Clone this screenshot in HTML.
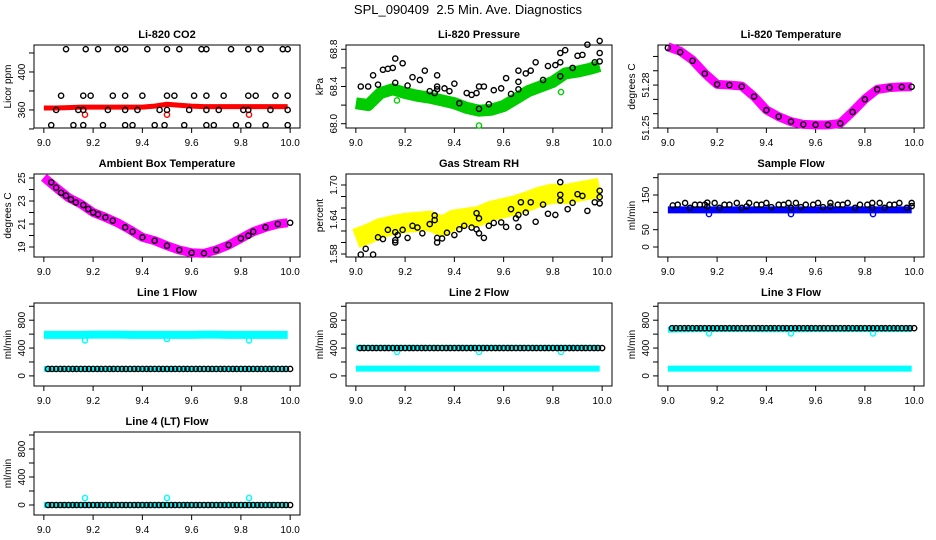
<!DOCTYPE html>
<html><head><meta charset="utf-8">
<style>
html,body{margin:0;padding:0;background:#fff;}
svg{display:block;font-family:"Liberation Sans",Arial,sans-serif;}
</style></head>
<body>
<svg id="chart" width="936" height="540" viewBox="0 0 936 540">
<rect width="936" height="540" fill="#fff"/>
<text x="468" y="14" text-anchor="middle" font-size="13">SPL_090409&#160; 2.5 Min. Ave. Diagnostics</text>
</svg>
<script>
// ---------- data ----------
const bandTimes = [9.0,9.05,9.1,9.15,9.2,9.25,9.3,9.35,9.4,9.45,9.5,9.55,9.6,9.65,9.7,9.75,9.8,9.85,9.9,9.95,9.99];
const sampleTimes = [9.017,9.033,9.05,9.067,9.083,9.1,9.117,9.133,9.15,9.167,9.183,9.2,9.217,9.233,9.25,9.267,9.283,9.3,9.317,9.333,9.35,9.367,9.383,9.4,9.417,9.433,9.45,9.467,9.483,9.5,9.517,9.533,9.55,9.567,9.583,9.6,9.617,9.633,9.65,9.667,9.683,9.7,9.717,9.733,9.75,9.767,9.783,9.8,9.817,9.833,9.85,9.867,9.883,9.9,9.917,9.933,9.95,9.967,9.983,10.0];
const outlierTimes = [9.167,9.5,9.833];
const xTicks = [9.0,9.2,9.4,9.6,9.8,10.0];
const xTickLabels = ["9.0","9.2","9.4","9.6","9.8","10.0"];

// CO2
const co2Band = [362,362,362.5,363,363,363,363,363,363,364,366,365,364,363.5,363.5,363.5,363.5,363.5,363.5,363.5,363.5];
const co2Outliers = [355,355,355];
const co2PtTimes = [9.09,9.17,9.22,9.30,9.33,9.42,9.50,9.55,9.64,9.66,9.76,9.83,9.88,9.97,9.99,
 9.07,9.16,9.19,9.28,9.33,9.40,9.50,9.53,9.61,9.66,9.73,9.83,9.86,9.94,9.99,
 9.05,9.14,9.16,9.26,9.33,9.38,9.47,9.50,9.59,9.66,9.71,9.81,9.83,9.92,9.99,
 9.03,9.12,9.16,9.24,9.33,9.36,9.45,9.49,9.57,9.66,9.69,9.78,9.83,9.90,9.99];
const co2PtValues = [424,424,424,424,424,424,424,424,424,424,424,424,424,424,424,
 375,375,375,375,375,375,375,375,375,375,375,375,375,375,375,
 360,360,360,360,360,360,360,360,360,360,360,360,360,360,360,
 344,344,344,344,344,344,344,344,344,344,344,344,344,344,344];
// Pressure
const presBand = [68.22,68.20,68.33,68.37,68.33,68.30,68.28,68.25,68.22,68.17,68.14,68.15,68.19,68.27,68.35,68.40,68.45,68.54,68.56,68.59,68.62];
const presOutliers = [68.25,67.98,68.34];
const presPtTimes = [9.02,9.05,9.07,9.09,9.11,9.13,9.15,9.16,9.16,9.19,9.21,9.23,9.26,9.28,9.30,9.32,9.33,9.33,9.33,9.36,9.38,9.40,9.42,9.45,9.47,9.49,9.50,9.50,9.52,9.54,9.56,9.59,9.61,9.63,9.66,9.66,9.66,9.69,9.71,9.73,9.76,9.78,9.81,9.83,9.83,9.83,9.85,9.88,9.90,9.92,9.94,9.97,9.99,9.99,9.99];
const presPtValues = [68.40,68.40,68.52,68.42,68.58,68.59,68.60,68.70,68.44,68.65,68.41,68.50,68.47,68.57,68.35,68.33,68.52,68.40,68.37,68.38,68.35,68.43,68.22,68.33,68.31,68.33,68.40,68.16,68.40,68.21,68.36,68.38,68.49,68.32,68.57,68.45,68.37,68.54,68.57,68.66,68.47,68.62,68.63,68.66,68.76,68.51,68.79,68.60,68.73,68.74,68.85,68.66,68.89,68.76,68.67];
// Li-820 temperature
const tempBand = [51.3067,51.3037,51.2975,51.2882,51.2805,51.2800,51.2793,51.2720,51.2626,51.2579,51.2544,51.2525,51.2522,51.2522,51.2532,51.2614,51.2702,51.2770,51.2782,51.2787,51.2788];
const tempPtValues = [51.3060,51.3030,51.2970,51.2880,51.2805,51.2800,51.2790,51.2720,51.2625,51.2580,51.2545,51.2525,51.2522,51.2522,51.2532,51.2612,51.2700,51.2770,51.2782,51.2787,51.2788];
// Ambient
const ambBand = [25.06,24.16,23.3,22.75,22.01,21.58,21.1,20.5,19.84,19.55,19.11,18.74,18.5,18.45,18.74,19.17,19.75,20.33,20.71,21.0,21.11];
const ambPtTimes = [9.03,9.05,9.07,9.09,9.11,9.13,9.16,9.18,9.2,9.22,9.25,9.28,9.33,9.36,9.4,9.45,9.5,9.55,9.6,9.65,9.7,9.75,9.8,9.83,9.85,9.9,9.95,10.0];
const ambPtValues = [24.63,24.16,23.72,23.46,23.14,22.88,22.65,22.30,22.01,21.84,21.58,21.29,20.71,20.33,19.84,19.55,19.11,18.74,18.50,18.45,18.74,19.17,19.75,19.98,20.33,20.71,21.0,21.11];
// RH
const rhBand = [1.607,1.615,1.625,1.630,1.634,1.636,1.638,1.628,1.640,1.643,1.646,1.655,1.660,1.665,1.672,1.680,1.685,1.684,1.688,1.692,1.695];
const rhPtTimes = [9.02,9.04,9.07,9.09,9.11,9.13,9.16,9.16,9.16,9.17,9.19,9.21,9.23,9.25,9.27,9.30,9.32,9.32,9.33,9.33,9.35,9.37,9.40,9.42,9.44,9.47,9.49,9.49,9.50,9.50,9.52,9.54,9.56,9.59,9.61,9.63,9.65,9.66,9.66,9.67,9.69,9.71,9.73,9.76,9.78,9.81,9.83,9.83,9.83,9.86,9.88,9.90,9.92,9.94,9.97,9.99,9.99,9.99];
const rhPtValues = [1.579,1.589,1.579,1.609,1.606,1.622,1.618,1.604,1.600,1.613,1.622,1.608,1.629,1.626,1.616,1.632,1.639,1.647,1.608,1.600,1.607,1.617,1.613,1.623,1.629,1.626,1.623,1.651,1.642,1.616,1.608,1.629,1.634,1.635,1.627,1.658,1.642,1.648,1.627,1.670,1.652,1.670,1.636,1.666,1.650,1.648,1.705,1.683,1.673,1.658,1.669,1.684,1.681,1.655,1.670,1.690,1.668,1.679];
// Sample flow
const sfBand = [107,107,107,107,107,107,107,107,107,107,107,107,107,107,107,107,107,107,107,107,107];
const sfOutliers = [95,95,95];
const sfPtTimes = [9.02,9.04,9.07,9.09,9.11,9.13,9.15,9.16,9.16,9.19,9.21,9.23,9.25,9.28,9.30,9.32,9.33,9.36,9.38,9.40,9.42,9.45,9.47,9.49,9.5,9.52,9.54,9.56,9.59,9.61,9.63,9.66,9.66,9.69,9.71,9.73,9.76,9.78,9.81,9.83,9.83,9.86,9.88,9.9,9.92,9.94,9.97,9.99,9.99];
const sfPtValues = [120,122,127,113,122,122,122,128,117,127,113,122,122,127,113,117,127,122,122,127,115,122,122,127,113,127,115,122,122,127,115,127,117,122,122,127,113,122,122,127,113,127,113,122,122,127,113,127,118];
// Line flows
const line1Upper = [590,590,590,590,592,592,592,590,590,590,590,590,590,592,592,590,590,590,590,590,590];
const line1Lower = [100,100,100,100,100,100,100,100,100,100,100,100,100,100,100,100,100,100,100,100,100];
const line1Outliers = [510,530,510];
const line1Level = 100;
const line2Upper = [405,405,405,405,405,405,405,405,405,405,405,405,405,405,405,405,405,405,405,405,405];
const line2Lower = [105,105,105,105,105,105,105,105,105,105,105,105,105,105,105,105,105,105,105,105,105];
const line2Outliers = [345,345,345];
const line2Level = 400;
const line3Upper = [665,668,670,672,672,672,672,672,670,670,670,670,672,672,672,672,672,672,672,672,672];
const line3Lower = [105,105,105,105,105,105,105,105,105,105,105,105,105,105,105,105,105,105,105,105,105];
const line3Outliers = [610,610,610];
const line3Level = 685;
const line4Band = [0,0,0,0,0,0,0,0,0,0,0,0,0,0,0,0,0,0,0,0,0];
const line4Outliers = [100,100,100];
const line4Level = 0;

// ---------- drawing ----------
const NS = "http://www.w3.org/2000/svg";
const svg = document.getElementById("chart");
function mk(tag, attrs, parent){
  const e = document.createElementNS(NS, tag);
  for (const k in attrs) e.setAttribute(k, attrs[k]);
  (parent||svg).appendChild(e);
  return e;
}

function makePanel(col, row, key, title, ylab, ymin, ymax, yTicks, yLabels){
  const left = 34 + 312*col, width = 266;
  const top = 45 + 129*row, height = 83;
  const g = mk("g", {});
  
  
  const xs = v => left + (v - 8.96) / 1.08 * width;
  const ys = v => top + height - (v - ymin) / (ymax - ymin) * height;
  const t = mk("text", {x: left + width/2, y: top - 7, "text-anchor":"middle", "font-size":"11", "font-weight":"bold"}, g);
  t.textContent = title;
  
  
  const box = mk("rect", {x:left, y:top, width:width, height:height, fill:"none", stroke:"#000", "stroke-width":"1"}, g);
  
  
  const xa = mk("g", {}, g);
  
  
  xTicks.forEach((v, i) => {
    mk("line", {x1:xs(v), x2:xs(v), y1:top+height, y2:top+height+5, stroke:"#000"}, xa);
    const tl = mk("text", {x:xs(v), y:top+height+18, "text-anchor":"middle", "font-size":"10"}, xa);
    tl.textContent = xTickLabels[i];
    
    
  });
  const ya = mk("g", {}, g);
  
  
  yTicks.forEach((v, i) => {
    mk("line", {x1:left-5, x2:left, y1:ys(v), y2:ys(v), stroke:"#000"}, ya);
    if (yLabels[i]) {
      const tl = mk("text", {x:0, y:0, "text-anchor":"middle", "font-size":"10",
        transform:`translate(${left-9},${ys(v)}) rotate(-90)`}, ya);
      tl.textContent = yLabels[i];
      
      
    }
  });
  const yt = mk("text", {x:0, y:0, "text-anchor":"middle", "font-size":"10",
    transform:`translate(${left-23},${top+height/2}) rotate(-90)`}, g);
  yt.textContent = ylab;
  
  
  return {g, xs, ys};
}

function band(p, times, vals, color, w, name){
  const pts = times.map((t, i) => p.xs(t) + "," + p.ys(vals[i])).join(" ");
  const pl = mk("polyline", {points:pts, fill:"none", stroke:color, "stroke-width":w, "stroke-linejoin":"round", "stroke-linecap":"butt"}, p.g);
  
  
}
function points(p, times, vals, color, name){
  const gg = mk("g", {}, p.g);
  
  
  times.forEach((t, i) => {
    const v = Array.isArray(vals) ? vals[i] : vals;
    const c = mk("circle", {cx:p.xs(t), cy:p.ys(v), r:2.6, fill:"none", stroke:color, "stroke-width":"1.4"}, gg);
    
    
  });
}
const CY = "#00ffff";

// Row 1
let p = makePanel(0,0,"co2","Li-820 CO2","Licor ppm",341,428.4,[340,360,380,400,420],["","360","","400",""]);
band(p, bandTimes, co2Band, "#ff0000", 5, "co2-red-series");
points(p, outlierTimes, co2Outliers, "#ff0000", "co2-red-outliers");
points(p, co2PtTimes, co2PtValues, "#000", "co2-black-series");

p = makePanel(1,0,"pressure","Li-820 Pressure","kPa",67.954,68.846,[68.0,68.2,68.4,68.6,68.8],["68.0","","68.4","","68.8"]);
band(p, bandTimes, presBand, "#00cc00", 12, "pressure-green-series");
points(p, outlierTimes, presOutliers, "#00cc00", "pressure-green-outliers");
points(p, presPtTimes, presPtValues, "#000", "pressure-black-series");

p = makePanel(2,0,"li820-temp","Li-820 Temperature","degrees C",51.25,51.308,[51.25,51.26,51.27,51.28,51.29,51.30],["51.25","","","51.28","",""]);
band(p, bandTimes, tempBand, "#ff00ff", 9, "li820-temp-magenta-series");
points(p, bandTimes, tempPtValues, "#000", "li820-temp-black-series");

// Row 2
p = makePanel(0,1,"ambient","Ambient Box Temperature","degrees C",18.13,25.35,[19,20,21,22,23,24,25],["19","","21","","23","","25"]);
band(p, bandTimes, ambBand, "#ff00ff", 9, "ambient-magenta-series");
points(p, ambPtTimes, ambPtValues, "#000", "ambient-black-series");

p = makePanel(1,1,"rh","Gas Stream RH","percent",1.5748,1.7191,[1.58,1.60,1.62,1.64,1.66,1.68,1.70],["1.58","","","1.64","","","1.70"]);
band(p, bandTimes, rhBand, "#ffff00", 20, "rh-yellow-series");
points(p, rhPtTimes, rhPtValues, "#000", "rh-black-series");

p = makePanel(2,1,"sample-flow","Sample Flow","ml/min",-28.8,210.6,[0,50,100,150,200],["0","50","","150",""]);
band(p, bandTimes, sfBand, "#0000ff", 7, "sample-flow-blue-series");
points(p, outlierTimes, sfOutliers, "#0000ff", "sample-flow-blue-outliers");
points(p, sfPtTimes, sfPtValues, "#000", "sample-flow-black-series");

// Row 3
const flowTicks = [0,200,400,600,800,1000], flowLabels = ["0","","400","","800",""];
p = makePanel(0,2,"line1","Line 1 Flow","ml/min",-145,1047,flowTicks,flowLabels);
band(p, bandTimes, line1Upper, CY, 8, "line1-cyan-upper");
band(p, bandTimes, line1Lower, CY, 6, "line1-cyan-lower");
points(p, outlierTimes, line1Outliers, CY, "line1-cyan-outliers");
points(p, sampleTimes, line1Level, "#000", "line1-black-series");

p = makePanel(1,2,"line2","Line 2 Flow","ml/min",-145,1047,flowTicks,flowLabels);
band(p, bandTimes, line2Upper, CY, 6, "line2-cyan-upper");
band(p, bandTimes, line2Lower, CY, 6, "line2-cyan-lower");
points(p, outlierTimes, line2Outliers, CY, "line2-cyan-outliers");
points(p, sampleTimes, line2Level, "#000", "line2-black-series");

p = makePanel(2,2,"line3","Line 3 Flow","ml/min",-145,1047,flowTicks,flowLabels);
band(p, bandTimes, line3Upper, CY, 6, "line3-cyan-upper");
band(p, bandTimes, line3Lower, CY, 6, "line3-cyan-lower");
points(p, outlierTimes, line3Outliers, CY, "line3-cyan-outliers");
points(p, sampleTimes, line3Level, "#000", "line3-black-series");

// Row 4
p = makePanel(0,3,"line4","Line 4 (LT) Flow","ml/min",-143,1043,flowTicks,flowLabels);
band(p, bandTimes, line4Band, CY, 6, "line4-cyan-series");
points(p, outlierTimes, line4Outliers, CY, "line4-cyan-outliers");
points(p, sampleTimes, line4Level, "#000", "line4-black-series");
</script>
</body></html>
